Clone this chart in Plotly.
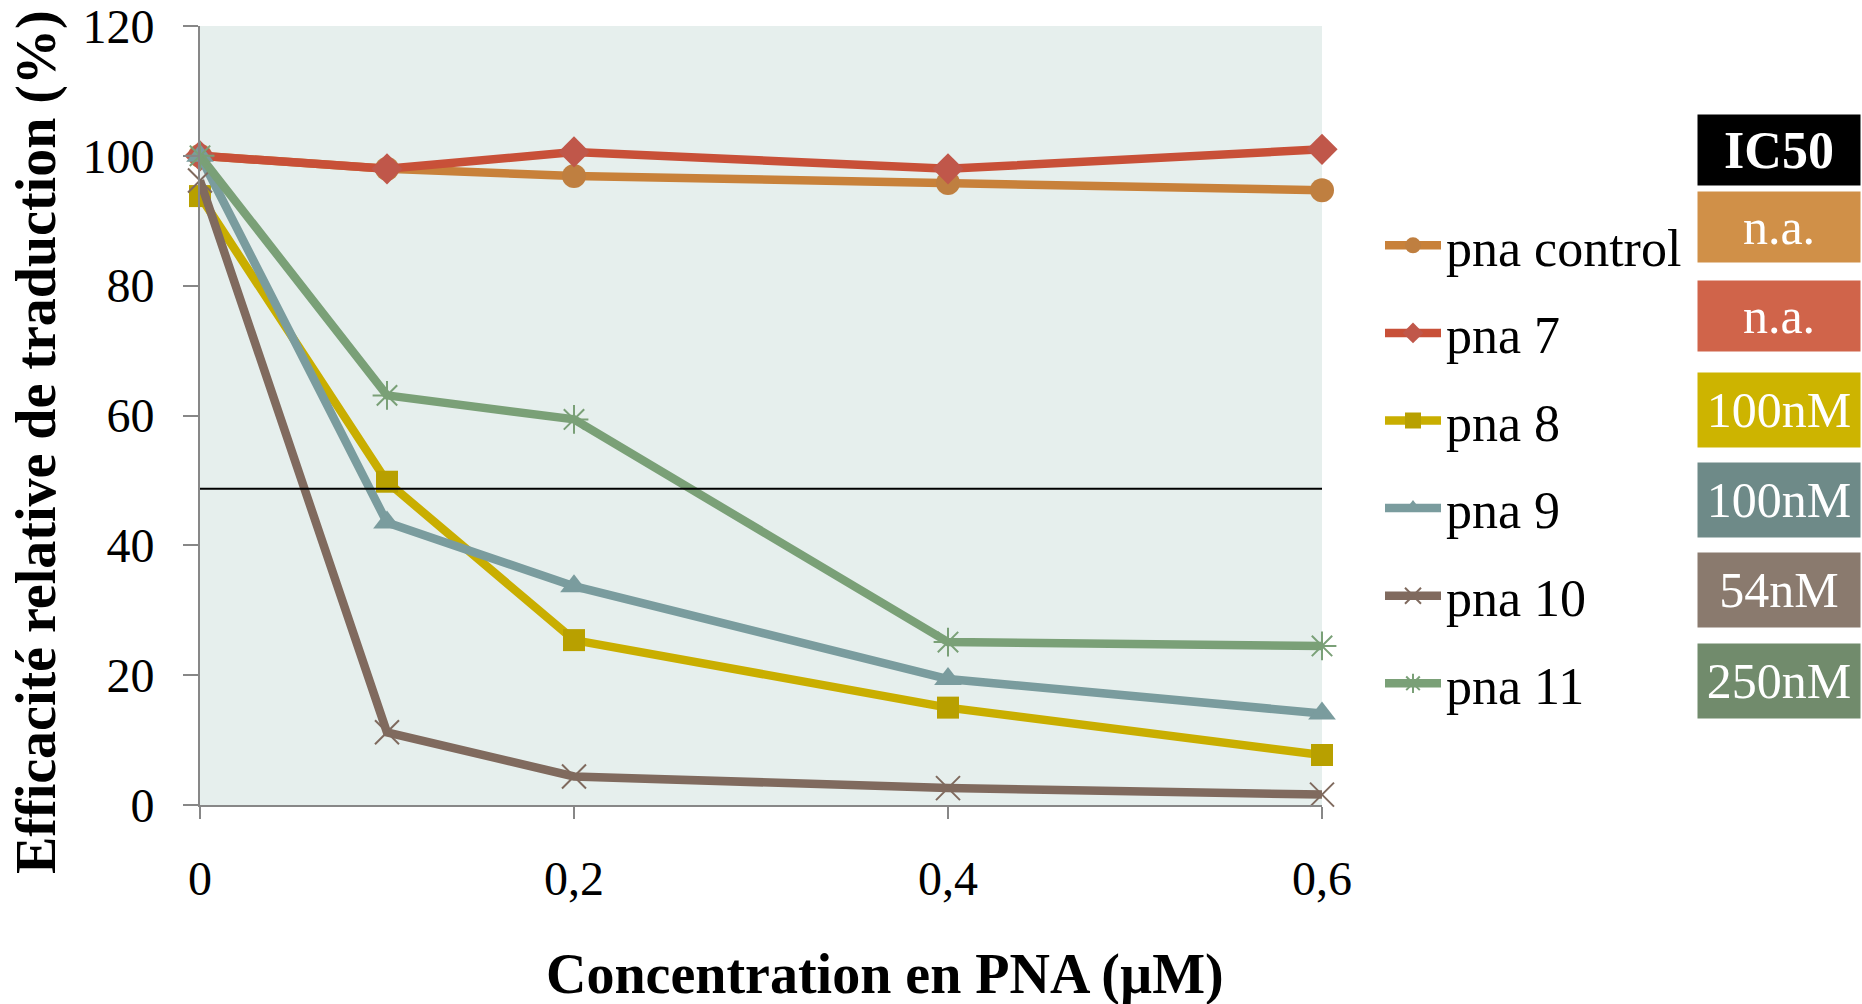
import plotly.graph_objects as go

# Concentration of PNA (µM) and relative translation efficiency (%)
concentration = [0, 0.1, 0.2, 0.4, 0.6]

pna_control = [100.0, 98.0, 96.9, 95.8, 94.7]
pna_7 = [100.0, 98.0, 100.6, 98.0, 101.0]
pna_8 = [93.8, 49.8, 25.4, 15.0, 7.7]
pna_9 = [100.0, 43.5, 33.7, 19.4, 14.1]
pna_10 = [96.2, 11.2, 4.4, 2.6, 1.6]
pna_11 = [100.0, 63.1, 59.4, 25.1, 24.5]

series_names = ["pna control", "pna 7", "pna 8", "pna 9", "pna 10", "pna 11"]
series_values = [pna_control, pna_7, pna_8, pna_9, pna_10, pna_11]

# 50 % inhibition reference level
half_level = 48.7

# IC50 table shown beside the legend
ic50_labels = ["IC50", "n.a.", "n.a.", "100nM", "100nM", "54nM", "250nM"]

x_ticks = [0, 0.2, 0.4, 0.6]
x_tick_text = ["0", "0,2", "0,4", "0,6"]
y_ticks = [0, 20, 40, 60, 80, 100, 120]

FONT = "Liberation Serif"

line_colors = ["#C8813A", "#C85038", "#C9AE00", "#7A9C9E", "#806A5E", "#7AA077"]
marker_colors = ["#BF7F40", "#C0574A", "#B8A000", "#7A9C9E", "#7F6A5E", "#7AA077"]
marker_symbols = ["circle", "diamond", "square", "triangle-up", "x-thin-open", "asterisk-open"]
marker_sizes = [24, 24, 22, 24, 24, 24]
box_colors = ["#000000", "#D09048", "#D0644A", "#CDB400", "#6E8A88", "#8A7A6E", "#718B6C"]

W, H = 1862, 1004
L, R, T, B = 200, 540, 26, 199
pw, ph = W - L - R, H - T - B


def px_x(px):
    return (px - L) / pw


def px_y(py):
    return (H - B - py) / ph


fig = go.Figure()

for i, (name, vals) in enumerate(zip(series_names, series_values)):
    is_open = marker_symbols[i].endswith("open")
    fig.add_trace(go.Scatter(
        x=concentration,
        y=vals,
        name=name,
        legendgroup=name,
        mode="lines+markers",
        line=dict(color=line_colors[i], width=8.5),
        marker=dict(
            symbol=marker_symbols[i],
            size=marker_sizes[i],
            color=marker_colors[i],
            line=dict(color=marker_colors[i], width=2 if is_open else 0),
        ),
        cliponaxis=False,
    ))

fig.add_shape(type="line", xref="x", yref="y", x0=0, x1=0.6,
              y0=half_level, y1=half_level,
              line=dict(color="black", width=2), layer="above")

# IC50 boxes
box_centers = [150, 227, 316, 410, 500, 590, 681]
box_heights = [70, 70, 70, 74, 74, 74, 74]
for lab, col, cy, bh in zip(ic50_labels, box_colors, box_centers, box_heights):
    bold = lab == "IC50"
    fig.add_annotation(
        xref="paper", yref="paper",
        x=px_x(1779), y=px_y(cy),
        xanchor="center", yanchor="middle",
        text=f"<b>{lab}</b>" if bold else lab,
        showarrow=False,
        bgcolor=col, width=162, height=bh,
        borderpad=0,
        font=dict(family=FONT, size=50 if not bold else 52, color="white"),
    )

# Axis titles
fig.add_annotation(
    xref="paper", yref="paper", x=px_x(36), y=px_y(442),
    text="<b>Efficacité relative de traduction (%)</b>", textangle=-90,
    showarrow=False, xanchor="center", yanchor="middle",
    font=dict(family=FONT, size=56, color="black"),
)
fig.add_annotation(
    xref="paper", yref="paper", x=px_x(885), y=px_y(974),
    text="<b>Concentration en PNA (µM)</b>",
    showarrow=False, xanchor="center", yanchor="middle",
    font=dict(family=FONT, size=56, color="black"),
)

fig.update_layout(
    width=W, height=H,
    margin=dict(l=L, r=R, t=T, b=B, pad=0, autoexpand=False),
    paper_bgcolor="white",
    plot_bgcolor="#E6EFED",
    showlegend=True,
    legend=dict(
        x=px_x(1380), y=px_y(205), xanchor="left", yanchor="top",
        font=dict(family=FONT, size=52, color="black"),
        bgcolor="rgba(0,0,0,0)",
        itemwidth=56,
        tracegroupgap=17,
        itemsizing="trace",
    ),
    xaxis=dict(
        range=[0, 0.6],
        tickvals=x_ticks, ticktext=x_tick_text,
        ticks="outside", ticklen=12, tickwidth=2, tickcolor="#878787",
        showline=True, linecolor="#878787", linewidth=2,
        showgrid=False, zeroline=False,
        ticklabelstandoff=18,
        tickfont=dict(family=FONT, size=48, color="black"),
    ),
    yaxis=dict(
        range=[0, 120],
        tickvals=y_ticks,
        ticks="outside", ticklen=15, tickwidth=2, tickcolor="#878787",
        showline=True, linecolor="#878787", linewidth=2,
        showgrid=False, zeroline=False,
        ticklabelstandoff=19,
        ticklabeloverflow="allow",
        tickfont=dict(family=FONT, size=48, color="black"),
    ),
)

fig.write_html("out.html")
